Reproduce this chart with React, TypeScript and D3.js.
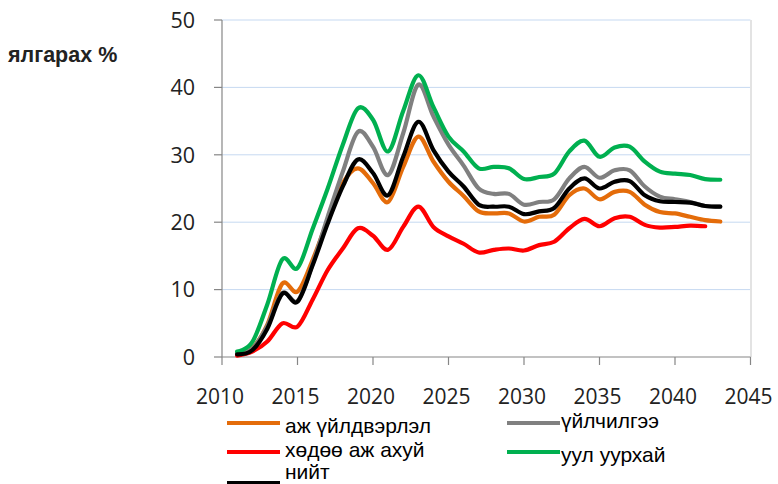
import * as d3 from "d3";

// Data (yearly values, %)
const YEARS = d3.range(2011, 2044);
const YEARS_RED = d3.range(2011, 2043);

const INDUSTRY = [0.4, 1.3, 4.8, 10.9, 9.7, 14.4, 20.3, 25.8, 28.0, 25.8, 23.0, 28.2, 32.7, 29.0, 26.0, 23.9, 21.6, 21.3, 21.3, 20.1, 20.8, 21.1, 24.0, 25.0, 23.4, 24.5, 24.5, 22.6, 21.5, 21.3, 20.8, 20.3, 20.1];
const SERVICES = [0.5, 1.2, 4.6, 9.5, 8.3, 13.8, 20.8, 27.5, 33.4, 31.2, 27.0, 33.2, 40.4, 35.7, 31.5, 28.4, 25.0, 24.2, 24.2, 22.6, 23.0, 23.4, 26.5, 28.2, 26.6, 27.7, 27.7, 25.3, 23.8, 23.4, 23.0, 22.4, 22.3];
const AGRICULTURE = [0.2, 0.8, 2.3, 5.0, 4.5, 8.5, 12.9, 16.1, 19.1, 18.0, 15.9, 19.3, 22.3, 19.3, 17.9, 16.8, 15.5, 15.9, 16.1, 15.8, 16.6, 17.1, 19.1, 20.5, 19.4, 20.6, 20.8, 19.6, 19.2, 19.3, 19.5, 19.4];
const MINING = [0.8, 2.2, 7.8, 14.5, 13.2, 19.0, 25.0, 31.5, 36.9, 35.2, 30.5, 36.5, 41.8, 37.1, 32.7, 30.5, 28.0, 28.2, 28.0, 26.4, 26.7, 27.2, 30.5, 32.1, 29.7, 31.1, 31.2, 29.0, 27.5, 27.2, 27.0, 26.4, 26.3];
const TOTAL = [0.4, 1.0, 4.2, 9.4, 8.2, 13.6, 19.8, 25.3, 29.3, 27.3, 24.0, 29.7, 34.9, 30.7, 27.5, 25.3, 22.6, 22.3, 22.3, 21.2, 21.6, 22.1, 25.0, 26.5, 25.0, 26.0, 26.1, 24.0, 23.1, 23.0, 22.9, 22.4, 22.3];

const X_TICKS = [2010, 2015, 2020, 2025, 2030, 2035, 2040, 2045];
const Y_TICKS = [0, 10, 20, 30, 40, 50];

const SERIES = [
  { name: "аж үйлдвэрлэл", color: "#e46c0a", years: YEARS, values: INDUSTRY },
  { name: "үйлчилгээ", color: "#808080", years: YEARS, values: SERVICES },
  { name: "хөдөө аж ахуй", color: "#ff0000", years: YEARS_RED, values: AGRICULTURE },
  { name: "уул уурхай", color: "#00b050", years: YEARS, values: MINING },
  { name: "нийт", color: "#000000", years: YEARS, values: TOTAL },
];

// legend slots: [line x, line y, text x, text baseline]
const LEGEND_POS = [
  [227, 423, 285, 433],
  [507, 423, 561, 428],
  [227, 452, 285, 457],
  [507, 452, 561, 462],
  [227, 483, 285, 479],
];

const W = 778;
const H = 484;
const LEFT = 222;
const RIGHT = 750.5;
const TOP = 20;
const BOTTOM = 357;

const TICK_FONT = "'Open Sans', sans-serif";
const TEXT_FONT = "'Liberation Sans', Arial, sans-serif";

export default function App() {
  const x = d3.scaleLinear().domain([2010, 2045]).range([LEFT, RIGHT]);
  const y = d3.scaleLinear().domain([0, 50]).range([BOTTOM, TOP]);

  const line = d3
    .line<[number, number]>()
    .x((d) => x(d[0]))
    .y((d) => y(d[1]))
    .curve(d3.curveCardinal.tension(0));

  return (
    <svg
      width={W}
      height={H}
      style={{ position: "absolute", left: 0, top: 0, display: "block", background: "#fff" }}
    >
      {/* gridlines */}
      {Y_TICKS.filter((t) => t > 0).map((t) => (
        <line key={t} x1={LEFT} x2={RIGHT} y1={y(t)} y2={y(t)} stroke="#c6d9f1" strokeWidth={1} />
      ))}
      <line x1={RIGHT + 0.5} x2={RIGHT + 0.5} y1={TOP} y2={BOTTOM} stroke="#e3e3e3" strokeWidth={2} />

      {/* y axis */}
      <line x1={LEFT} x2={LEFT} y1={TOP} y2={BOTTOM} stroke="#868686" strokeWidth={1.2} />
      {Y_TICKS.map((t) => (
        <g key={t}>
          <line x1={LEFT - 8} x2={LEFT} y1={y(t)} y2={y(t)} stroke="#868686" strokeWidth={1.2} />
          <text x={195} y={y(t)} dy="0.36em" textAnchor="end" fontFamily={TICK_FONT} fontSize={21.5} fill="#222">
            {t}
          </text>
        </g>
      ))}

      {/* x axis */}
      <line x1={LEFT} x2={RIGHT} y1={BOTTOM} y2={BOTTOM} stroke="#868686" strokeWidth={1.2} />
      {X_TICKS.map((t) => (
        <g key={t}>
          <line x1={x(t)} x2={x(t)} y1={BOTTOM} y2={BOTTOM + 8} stroke="#868686" strokeWidth={1.2} />
          <text x={x(t) - 2} y={404} textAnchor="middle" fontFamily={TICK_FONT} fontSize={21} fill="#222">
            {t}
          </text>
        </g>
      ))}

      {/* y title */}
      <text x={8} y={62} fontFamily={TEXT_FONT} fontWeight="bold" fontSize={21.5} fill="#222">
        ялгарах %
      </text>

      {/* series */}
      {SERIES.map((s) => (
        <path
          key={s.name}
          d={line(s.years.map((yr, i) => [yr, s.values[i]] as [number, number])) ?? ""}
          fill="none"
          stroke={s.color}
          strokeWidth={4.2}
          strokeLinejoin="round"
          strokeLinecap="round"
        />
      ))}

      {/* legend */}
      {SERIES.map((s, i) => {
        const [lx, ly, tx, ty] = LEGEND_POS[i];
        return (
          <g key={s.name}>
            <line x1={lx} x2={lx + 53} y1={ly} y2={ly} stroke={s.color} strokeWidth={4} />
            <text x={tx} y={ty} fontFamily={TEXT_FONT} fontSize={21} fill="#000">
              {s.name}
            </text>
          </g>
        );
      })}
    </svg>
  );
}
